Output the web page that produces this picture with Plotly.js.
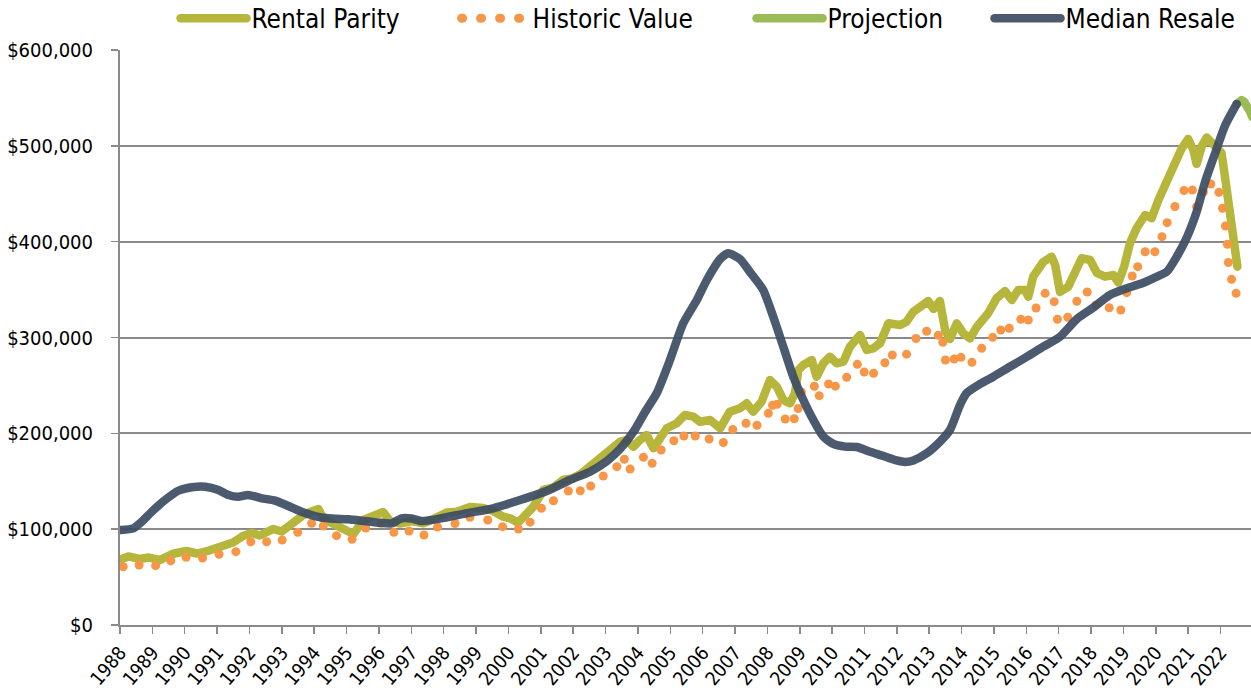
<!DOCTYPE html>
<html>
<head>
<meta charset="utf-8">
<script src="https://cdn.plot.ly/plotly-3.0.1.min.js"></script>
<style>
html,body{margin:0;padding:0;background:#fff;}
#chart{width:1251px;height:688px;}
g.legendlines path{stroke-linecap:round !important;}
.scatterlayer path.js-line{stroke-linejoin:round;stroke-linecap:round;}
</style>
</head>
<body>
<div id="chart"></div>
<script>
// ---- data (values in thousands of dollars, x in decimal years) ----
const rentalYear = [1988.05,1988.26,1988.59,1988.90,1989.24,1989.61,1990.04,1990.38,1990.75,1991.09,
1991.49,1991.80,1992.07,1992.32,1992.73,1993.00,1993.30,1993.62,1993.87,1994.13,
1994.29,1994.59,1995.01,1995.21,1995.52,1995.83,1996.13,1996.34,1996.65,1997.01,
1997.37,1997.68,1998.09,1998.40,1998.81,1999.22,1999.53,1999.84,2000.05,2000.30,
2000.51,2000.77,2001.08,2001.39,2001.69,2002.00,2002.26,2002.52,2002.83,2003.14,
2003.45,2003.65,2003.86,2004.06,2004.27,2004.48,2004.68,2004.89,2005.20,2005.45,
2005.71,2005.92,2006.23,2006.54,2006.84,2007.15,2007.36,2007.56,2007.82,2008.08,
2008.29,2008.49,2008.70,2008.85,2008.96,2009.11,2009.37,2009.52,2009.73,2009.93,
2010.14,2010.35,2010.55,2010.86,2011.07,2011.27,2011.48,2011.74,2012.10,2012.30,
2012.51,2012.71,2012.97,2013.13,2013.33,2013.49,2013.64,2013.85,2014.05,2014.26,
2014.47,2014.82,2015.08,2015.34,2015.55,2015.75,2015.96,2016.06,2016.21,2016.52,
2016.78,2016.89,2017.04,2017.29,2017.50,2017.71,2017.97,2018.18,2018.43,2018.69,
2018.84,2019.02,2019.20,2019.41,2019.67,2019.87,2020.08,2020.31,2020.54,2020.80,
2021.00,2021.16,2021.26,2021.42,2021.57,2021.73,2021.88,2022.03,2022.14,2022.24,
2022.34,2022.45,2022.52];
const rentalValue = [68.9,71.5,68.9,70.4,67.8,74.1,77.2,74.6,77.7,81.9,
86.1,92.9,96.0,93.4,100.2,97.6,106.4,113.7,117.9,121.0,
110.6,105.4,98.6,95.0,109.6,113.0,117.9,108.5,105.9,108.5,
106.1,110.6,117.4,118.2,123.1,122.1,119.0,113.0,111.3,106.8,
113.0,123.4,140.9,143.7,151.3,153.1,158.3,165.2,172.2,180.8,
191.3,193.0,186.1,193.0,198.3,184.4,196.5,205.3,210.5,219.1,
217.4,212.1,213.9,205.3,222.6,226.1,231.3,222.6,233.0,255.7,
248.7,234.8,231.3,241.8,266.1,271.3,276.5,259.1,273.1,280.0,
273.1,274.8,290.4,302.6,287.0,288.7,294.0,314.8,313.1,316.5,
326.9,332.2,338.1,329.8,338.1,307.8,298.4,314.8,304.4,299.0,
311.0,325.3,340.9,348.5,339.1,349.6,349.6,342.6,363.5,378.8,
384.3,375.7,347.5,352.7,370.4,382.7,380.9,367.3,363.5,365.2,
357.4,373.9,398.3,414.3,427.8,424.4,443.5,462.3,481.8,497.4,
507.1,495.7,481.1,499.8,508.7,503.0,495.7,492.5,466.5,443.5,
412.2,396.5,373.9];

const histYear = [1988.10,1988.59,1989.10,1989.57,1990.04,1990.55,1991.06,1991.58,1992.04,1992.53,
1993.01,1993.49,1993.92,1994.28,1994.69,1995.17,1995.59,1996.05,1996.46,1996.93,
1997.39,1997.81,1998.35,1998.81,1999.36,1999.82,2000.31,2000.67,2001.02,2001.39,
2001.85,2002.22,2002.54,2002.93,2003.35,2003.58,2003.76,2004.17,2004.44,2004.72,
2005.11,2005.42,2005.77,2006.20,2006.64,2006.93,2007.34,2007.68,2008.03,2008.16,
2008.30,2008.55,2008.83,2008.95,2009.05,2009.45,2009.60,2009.89,2010.10,2010.45,
2010.78,2010.99,2011.28,2011.63,2011.86,2012.30,2012.59,2012.92,2013.28,2013.42,
2013.50,2013.77,2013.98,2014.32,2014.62,2014.96,2015.21,2015.47,2015.83,2016.06,
2016.30,2016.58,2016.86,2016.96,2017.28,2017.56,2017.88,2018.15,2018.56,2018.92,
2019.10,2019.27,2019.44,2019.67,2019.97,2020.19,2020.35,2020.59,2020.87,2021.13,
2021.26,2021.47,2021.70,2021.95,2022.06,2022.15,2022.21,2022.24,2022.34,2022.48];
const histValue = [60.8,62.6,61.9,67.1,70.6,69.9,73.8,76.5,86.9,86.9,
88.7,96.7,106.1,103.3,93.2,89.4,101.2,106.1,96.7,98.1,
93.9,102.3,105.9,112.4,109.6,102.6,100.2,107.3,121.8,129.7,
139.8,140.1,145.0,155.5,165.2,172.9,162.8,175.0,168.7,182.6,
192.3,197.2,197.2,194.1,190.4,204.0,210.5,208.4,220.9,229.3,
230.3,215.0,215.2,225.9,243.1,249.1,239.3,251.5,249.2,258.5,
272.0,264.0,262.7,273.7,281.7,282.6,299.0,306.5,302.4,295.0,
276.5,277.6,279.3,274.1,288.7,300.2,307.8,309.6,319.0,318.3,
330.8,346.1,337.4,319.0,321.1,337.8,347.5,333.9,331.1,328.7,
346.8,364.2,373.9,389.5,389.5,405.2,419.8,436.7,453.4,453.9,
436.5,451.8,460.2,451.5,434.9,416.4,397.3,378.3,360.7,346.1];

const medianYear = [1988.02,1988.41,1988.67,1988.98,1989.39,1989.80,1990.22,1990.63,1991.04,1991.35,
1991.65,1991.96,1992.38,1992.79,1993.20,1993.61,1994.02,1994.43,1995.05,1995.47,
1995.98,1996.39,1996.70,1997.01,1997.33,1997.89,1998.71,1999.53,2000.36,2001.18,
2001.90,2002.52,2003.04,2003.45,2003.86,2004.22,2004.58,2004.99,2005.40,2005.82,
2006.13,2006.54,2006.79,2007.15,2007.46,2007.87,2008.18,2008.49,2008.80,2009.11,
2009.42,2009.73,2010.04,2010.40,2010.76,2011.17,2011.58,2011.99,2012.25,2012.51,
2012.92,2013.33,2013.64,2013.95,2014.16,2014.57,2014.98,2015.49,2016.01,2016.52,
2017.04,2017.56,2018.07,2018.58,2019.10,2019.51,2019.92,2020.34,2020.64,2020.95,
2021.26,2021.52,2021.83,2022.14,2022.50];
const medianValue = [99.1,100.9,107.8,118.2,130.4,140.1,143.7,144.3,140.9,135.7,
133.9,135.7,132.2,129.7,124.2,118.2,113.7,111.3,110.3,108.8,
106.8,106.1,111.3,111.1,108.5,111.1,116.6,121.8,130.4,139.8,
151.3,160.0,171.1,183.7,201.4,222.3,241.8,276.5,314.8,339.1,
360.0,381.9,387.9,381.9,368.4,349.6,321.7,290.4,259.1,234.8,
213.9,196.5,188.9,186.1,185.7,180.8,176.4,171.7,170.1,171.7,
179.2,191.3,203.5,229.6,242.1,251.5,259.1,269.5,279.7,290.4,
300.8,319.3,331.3,344.4,351.4,355.8,361.8,368.7,384.0,403.8,
431.0,462.3,492.2,521.2,543.7];

const projYear = [2022.50,2022.58,2022.65,2022.73,2022.81,2022.91,2022.98];
const projValue = [543.7,547.0,547.8,546.0,542.6,535.6,530.0];

const seriesNames = ['Rental Parity','Historic Value','Projection','Median Resale'];
const yTickValues = [0,100,200,300,400,500,600];

// ---- styling ----
const FONT = '"DejaVu Sans Condensed", "DejaVu Sans", sans-serif';
const C_RENTAL = '#b7b63c';
const C_HIST = '#f79646';
const C_PROJ = '#9bbb59';
const C_MED = '#3c4c63';
const GRID = '#8a8a8a';
const k = v => v.map(d => d * 1000);

const traces = [
  {x: rentalYear, y: k(rentalValue), name: seriesNames[0], type: 'scatter', mode: 'lines',
   line: {color: C_RENTAL, width: 8.5}, hoverinfo: 'skip', legend: 'legend'},
  {x: histYear, y: k(histValue), name: seriesNames[1], type: 'scatter', mode: 'markers',
   marker: {color: C_HIST, size: 9, line: {width: 0}}, showlegend: false, hoverinfo: 'skip'},
  {x: [null], y: [null], name: seriesNames[1], type: 'scatter', mode: 'lines',
   line: {color: C_HIST, width: 9, dash: '1px,18px'}, hoverinfo: 'skip', legend: 'legend2'},
  {x: projYear, y: k(projValue), name: seriesNames[2], type: 'scatter', mode: 'lines',
   line: {color: C_PROJ, width: 8.5}, hoverinfo: 'skip', legend: 'legend3'},
  {x: medianYear, y: k(medianValue), name: seriesNames[3], type: 'scatter', mode: 'lines',
   line: {color: C_MED, width: 8.5, shape: 'spline', smoothing: 0.6}, opacity: 0.92,
   hoverinfo: 'skip', legend: 'legend4'}
];

function legendAt(xFrac) {
  return {orientation: 'h', x: xFrac, xanchor: 'left', y: 1.055, yanchor: 'middle',
          font: {size: 26, color: '#000000'}, itemwidth: 66,
          bgcolor: 'rgba(0,0,0,0)', borderwidth: 0};
}

const layout = {
  width: 1251, height: 688,
  margin: {l: 120, r: 0, t: 50, b: 63, pad: 0, autoexpand: false},
  paper_bgcolor: '#ffffff', plot_bgcolor: '#ffffff',
  font: {family: FONT, size: 20, color: '#000000'},
  showlegend: true,
  legend: legendAt(0.0491),
  legend2: legendAt(0.2976),
  legend3: legendAt(0.5584),
  legend4: legendAt(0.7688),
  xaxis: {range: [1988, 2022.94], tickmode: 'linear', tick0: 1988, dtick: 1,
          ticks: 'outside', ticklen: 7, tickwidth: 1.5, tickcolor: GRID,
          showgrid: false, showline: true, linecolor: GRID, linewidth: 2,
          zeroline: false, tickangle: -50, tickformat: 'd', tickfont: {size: 19},
          automargin: false},
  yaxis: {range: [0, 600000], tickmode: 'array', tickvals: k(yTickValues),
          tickformat: '$,.0f',
          showgrid: true, gridcolor: GRID, gridwidth: 2,
          showline: true, linecolor: GRID, linewidth: 2,
          ticks: 'outside', ticklen: 7, tickwidth: 1.5, tickcolor: GRID,
          ticklabelstandoff: 14, zeroline: false, tickfont: {size: 20}, automargin: false}
};

Plotly.newPlot('chart', traces, layout, {staticPlot: true, displayModeBar: false});
</script>
</body>
</html>
